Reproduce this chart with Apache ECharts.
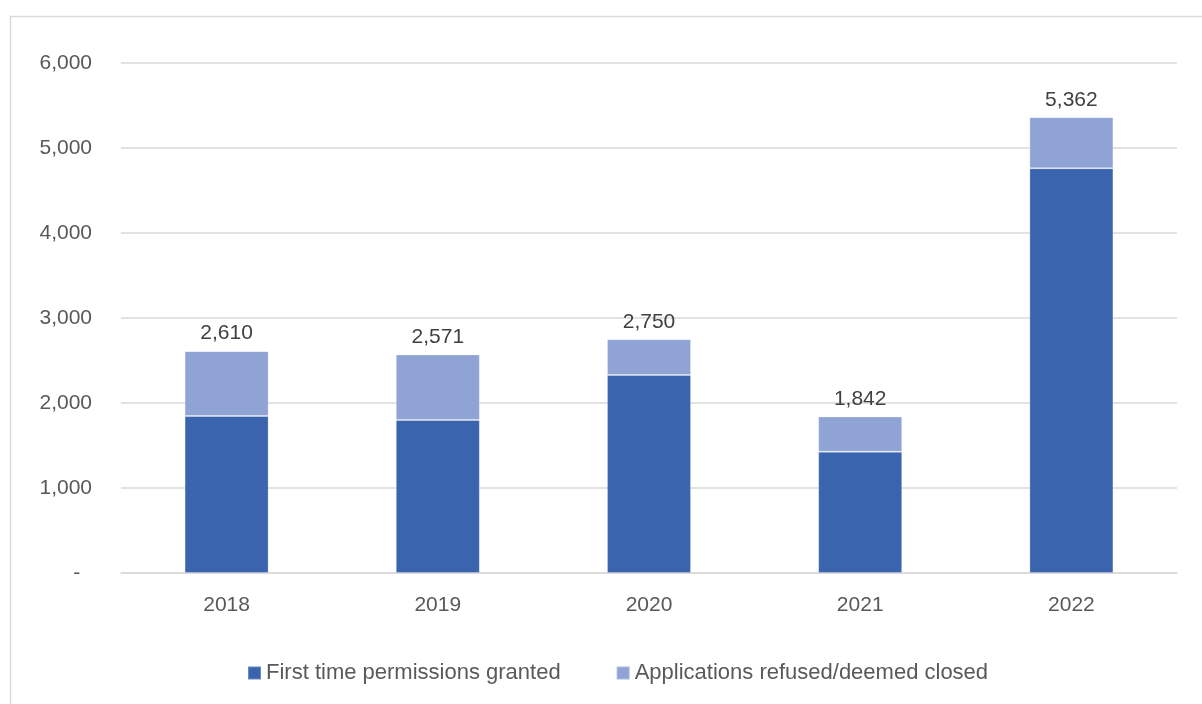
<!DOCTYPE html>
<html>
<head>
<meta charset="utf-8">
<script src="https://cdn.jsdelivr.net/npm/echarts@6/dist/echarts.min.js"></script>
<style>
html,body{margin:0;padding:0;background:#fff;}
#chart{width:1202px;height:704px;}
</style>
</head>
<body>
<div id="chart"></div>
<script>
var categories = ['2018', '2019', '2020', '2021', '2022'];
var granted = [1847, 1800, 2329, 1427, 4761];
var refused = [763, 771, 421, 415, 601];
var totals = [2610, 2571, 2750, 1842, 5362];
var yTicks = [0, 1000, 2000, 3000, 4000, 5000, 6000];
var seriesNames = ['First time permissions granted', 'Applications refused/deemed closed'];

var FONT = '"Liberation Sans", Arial, sans-serif';
var chart = echarts.init(document.getElementById('chart'), null, {renderer: 'canvas'});

chart.setOption({
  animation: false,
  backgroundColor: '#ffffff',
  graphic: [{
    type: 'rect',
    shape: {x: 10.5, y: 16.5, width: 1300, height: 800},
    style: {fill: 'none', stroke: '#d9d9d9', lineWidth: 1.5},
    silent: true
  }],
  grid: {left: 121, right: 25, top: 63, bottom: 131, containLabel: false},
  legend: {
    data: seriesNames,
    left: 242,
    top: 657,
    itemWidth: 13,
    itemHeight: 13,
    itemGap: 55,
    icon: 'rect',
    textStyle: {fontFamily: FONT, fontSize: 22, color: '#595959'}
  },
  xAxis: {
    type: 'category',
    data: categories,
    axisLine: {show: true, lineStyle: {color: '#d9d9d9', width: 1.5}},
    axisTick: {show: false},
    axisLabel: {fontFamily: FONT, fontSize: 21, color: '#595959', margin: 22}
  },
  yAxis: {
    type: 'value',
    min: yTicks[0],
    max: yTicks[yTicks.length - 1],
    interval: 1000,
    axisLine: {show: false},
    axisTick: {show: false},
    splitLine: {lineStyle: {color: '#d9d9d9', width: 1.5}},
    axisLabel: {
      fontFamily: FONT, fontSize: 21, color: '#595959', margin: 29,
      formatter: function (v) {
        if (v === 0) return '-  ';
        return v.toLocaleString('en-US');
      }
    }
  },
  series: [
    {
      name: seriesNames[0],
      type: 'bar',
      stack: 'total',
      barWidth: 84,
      data: granted,
      itemStyle: {color: '#3a64ad', borderColor: 'rgba(255,255,255,0.25)', borderWidth: 1}
    },
    {
      name: seriesNames[1],
      type: 'bar',
      stack: 'total',
      barWidth: 84,
      data: refused,
      itemStyle: {color: '#8fa3d4', borderColor: 'rgba(255,255,255,0.25)', borderWidth: 1},
      label: {
        show: true,
        position: 'top',
        distance: 7,
        fontFamily: FONT,
        fontSize: 21,
        color: '#404040',
        formatter: function (p) {
          return totals[p.dataIndex].toLocaleString('en-US');
        }
      }
    }
  ]
});
</script>
</body>
</html>
